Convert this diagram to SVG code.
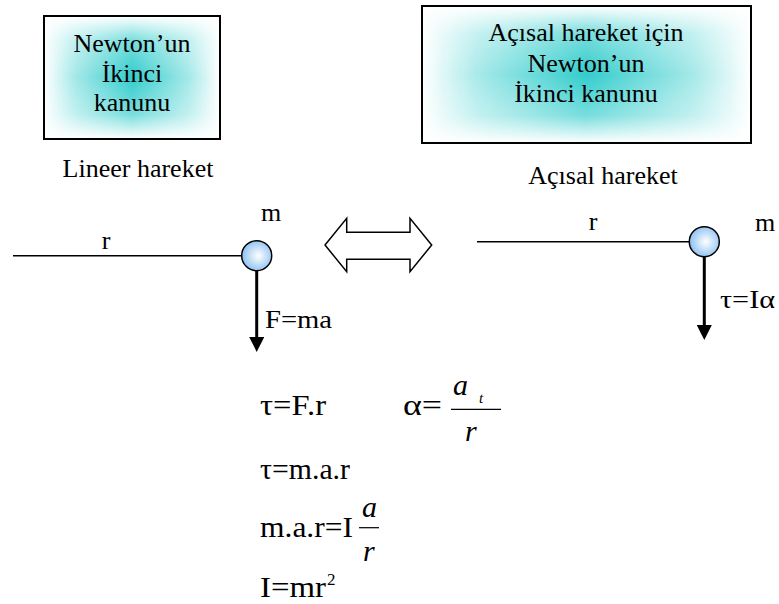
<svg xmlns="http://www.w3.org/2000/svg" width="779" height="604" viewBox="0 0 779 604" font-family="'Liberation Serif', 'DejaVu Serif', serif">
<style>
text{font-family:'Liberation Serif','DejaVu Serif',serif;fill:#000}
.t{font-size:26px}
.f{font-size:30px}
.i{font-style:italic}
.box{stroke:#000;stroke-width:2;fill:none}
.ln{stroke:#000;stroke-width:1.5;fill:none}
.ball{fill:url(#ballG);stroke:#000;stroke-width:1.5}
.vec{stroke:#000;stroke-width:3;fill:none}
.fr{stroke:#000;stroke-width:1.2}
</style>
<defs>
<linearGradient id="hx" x1="0" y1="0" x2="1" y2="0">
<stop offset="0" stop-color="#33cccc" stop-opacity="0"/>
<stop offset="0.18" stop-color="#33cccc" stop-opacity="0.45"/>
<stop offset="0.5" stop-color="#33cccc" stop-opacity="1"/>
<stop offset="0.82" stop-color="#33cccc" stop-opacity="0.45"/>
<stop offset="1" stop-color="#33cccc" stop-opacity="0"/>
</linearGradient>
<linearGradient id="vy" x1="0" y1="0" x2="0" y2="1">
<stop offset="0" stop-color="#000"/>
<stop offset="0.2" stop-color="#aaa"/>
<stop offset="0.5" stop-color="#fff"/>
<stop offset="0.8" stop-color="#aaa"/>
<stop offset="1" stop-color="#000"/>
</linearGradient>
<mask id="m1" maskContentUnits="objectBoundingBox"><rect x="0" y="0" width="1" height="1" fill="url(#vy)"/></mask>
<radialGradient id="ballG" cx="0.55" cy="0.5" r="0.55">
<stop offset="0" stop-color="#ffffff"/>
<stop offset="1" stop-color="#8cc0f2"/>
</radialGradient>
<marker id="ah" markerWidth="5" markerHeight="5" refX="0" refY="2.5" orient="auto" markerUnits="strokeWidth">
<path d="M0,0 L5,2.5 L0,5 Z" fill="#000"/>
</marker>
</defs>

<g id="box-left">
<rect x="44" y="16" width="176" height="123" fill="#fff"/>
<rect x="44" y="16" width="176" height="123" fill="url(#hx)" mask="url(#m1)"/>
<rect x="44" y="16" width="176" height="123" class="box"/>
<text class="t" x="132" y="52" text-anchor="middle">Newton’un</text>
<text class="t" x="132" y="82" text-anchor="middle">İkinci</text>
<text class="t" x="132" y="111" text-anchor="middle">kanunu</text>
</g>
<g id="label-left"><text class="t" x="138" y="177" text-anchor="middle">Lineer hareket</text></g>

<g id="box-right">
<rect x="422" y="6" width="329" height="137" fill="#fff"/>
<rect x="422" y="6" width="329" height="137" fill="url(#hx)" mask="url(#m1)"/>
<rect x="422" y="6" width="329" height="137" class="box"/>
<text class="t" x="586" y="41" text-anchor="middle">Açısal hareket için</text>
<text class="t" x="586" y="72" text-anchor="middle">Newton’un</text>
<text class="t" x="586" y="102" text-anchor="middle">İkinci kanunu</text>
</g>
<g id="label-right"><text class="t" x="603" y="184" text-anchor="middle">Açısal hareket</text></g>

<g id="connectors">
<line class="ln" x1="13" y1="255.7" x2="242" y2="255.7"/>
<line class="vec" x1="256.7" y1="271" x2="256.7" y2="337" marker-end="url(#ah)"/>
<line class="ln" x1="477" y1="241.7" x2="689" y2="241.7"/>
<line class="vec" x1="704.3" y1="257" x2="704.3" y2="325" marker-end="url(#ah)"/>
</g>

<g id="linear-mass">
<circle class="ball" cx="256.7" cy="255.7" r="15"/>
<text class="t" x="106" y="249" text-anchor="middle">r</text>
<text class="t" x="271" y="221" text-anchor="middle">m</text>
<text class="t" x="265" y="328" textLength="67" lengthAdjust="spacingAndGlyphs">F=ma</text>
</g>

<g id="double-arrow">
<polygon points="325,245 346.7,218.3 346.7,232.3 410,232.3 410,218.3 431.7,245 410,271.7 410,259.3 346.7,259.3 346.7,271.7" fill="#fff" stroke="#000" stroke-width="1.5"/>
</g>

<g id="angular-mass">
<circle class="ball" cx="704.3" cy="241.7" r="15"/>
<text class="t" x="593" y="230" text-anchor="middle">r</text>
<text class="t" x="765" y="231" text-anchor="middle">m</text>
<text class="t" x="720" y="308" textLength="55" lengthAdjust="spacingAndGlyphs">τ=Iα</text>
</g>

<g id="formulas">
<text class="f" x="260" y="415" textLength="66" lengthAdjust="spacingAndGlyphs">τ=F.r</text>
<text class="f" x="403" y="415" textLength="39" lengthAdjust="spacingAndGlyphs">α=</text>
<text class="f i" x="453" y="395">a</text>
<text class="i" x="479" y="403" font-size="15">t</text>
<line class="fr" x1="451" y1="409.3" x2="501" y2="409.3"/>
<text class="f i" x="465" y="441">r</text>
<text class="f" x="260" y="479" textLength="90" lengthAdjust="spacingAndGlyphs">τ=m.a.r</text>
<text class="f" x="260" y="537" textLength="93" lengthAdjust="spacingAndGlyphs">m.a.r=I</text>
<text class="f i" x="362" y="517">a</text>
<line class="fr" x1="359" y1="527.7" x2="379" y2="527.7"/>
<text class="f i" x="363" y="561">r</text>
<text class="f" x="260" y="597" textLength="66" lengthAdjust="spacingAndGlyphs">I=mr</text>
<text x="327" y="585" font-size="17">2</text>
</g>
</svg>
